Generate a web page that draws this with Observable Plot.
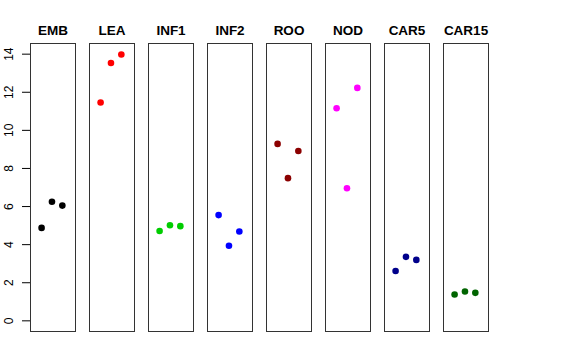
<!DOCTYPE html>
<html>
<head>
<meta charset="utf-8">
<script src="https://cdn.jsdelivr.net/npm/d3@7"></script>
<script src="https://cdn.jsdelivr.net/npm/@observablehq/plot@0.6"></script>
<style>
  html, body { margin: 0; padding: 0; background: #fff; }
  #chart svg { display: block; }
</style>
</head>
<body>
<div id="chart"></div>
<script>
const categories = ["EMB", "LEA", "INF1", "INF2", "ROO", "NOD", "CAR5", "CAR15"];
const colors = ["#000000", "#FF0000", "#00CD00", "#0000FF", "#8B0000", "#FF00FF", "#00008B", "#006400"];
const rep1 = [4.88, 11.46, 4.72, 5.55, 9.29, 11.16, 2.62, 1.38];
const rep2 = [6.25, 13.54, 5.02, 3.94, 7.49, 6.96, 3.36, 1.54];
const rep3 = [6.05, 13.98, 4.97, 4.69, 8.92, 12.23, 3.20, 1.47];
const yTicks = [0, 2, 4, 6, 8, 10, 12, 14];

const data = [];
categories.forEach((c, i) => {
  [rep1, rep2, rep3].forEach((rep, j) => {
    data.push({cat: c, rep: j + 1, value: rep[i], color: colors[i]});
  });
});

const chart = Plot.plot({
  width: 576,
  height: 360,
  marginTop: 43,
  marginBottom: 29,
  marginLeft: 29,
  marginRight: 88,
  style: {fontFamily: "'Liberation Sans', Arial, Helvetica, sans-serif", background: "#fff"},
  fx: {domain: categories, paddingInner: 0.245, paddingOuter: 0, label: null},
  x: {domain: [-0.07, 4.27], axis: null},
  y: {domain: [-0.56, 14.56], label: null},
  marks: [
    Plot.frame({stroke: "#333", strokeWidth: 1}),
    Plot.axisFx({anchor: "top", tickSize: 0, tickPadding: 9, fontSize: 13.5, fontWeight: "bold", label: null, fill: "#000"}),
    Plot.axisY({ticks: yTicks, tickSize: 8, tickPadding: 10, tickRotate: -90, fontSize: 12, label: null, stroke: "#000"}),
    Plot.dot(data, {fx: "cat", x: "rep", y: "value", fill: "color", r: 3.3, stroke: null})
  ]
});
document.getElementById("chart").appendChild(chart);
</script>
</body>
</html>
